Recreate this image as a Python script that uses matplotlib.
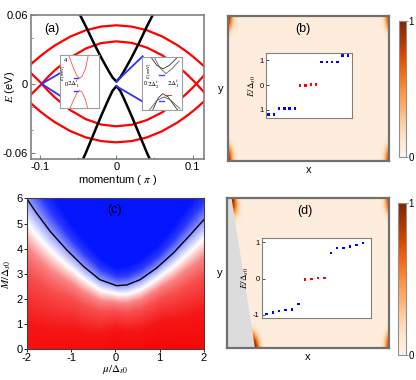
import numpy as np
import matplotlib
matplotlib.use("Agg")
import matplotlib.pyplot as plt
from matplotlib.colors import LinearSegmentedColormap
from matplotlib.cm import ScalarMappable
from matplotlib.colors import Normalize

plt.rcParams['font.family'] = ['Liberation Sans', 'DejaVu Sans']
plt.rcParams['mathtext.fontset'] = 'stix'

# ---- (a) band structure ----
k_red = [-0.113, -0.1, -0.09, -0.08, -0.06, -0.04, -0.02, 0.0,
         0.02, 0.04, 0.06, 0.08, 0.09, 0.1, 0.105, 0.115]
red_outer_up = [0.0165, 0.024, 0.0291, 0.0337, 0.0413, 0.0467, 0.0499, 0.051,
                0.0499, 0.0467, 0.0413, 0.0337, 0.0291, 0.024, 0.0212, 0.0153]
red_inner_up = [-0.010, -0.0015, 0.0058, 0.0123, 0.0231, 0.0308, 0.0355, 0.037,
                0.0357, 0.0316, 0.0249, 0.0155, 0.0098, 0.0034, 0.0, -0.0074]
red_outer_dn = [-0.0165, -0.024, -0.0291, -0.0337, -0.0413, -0.0467, -0.0499, -0.051,
                -0.0499, -0.0467, -0.0413, -0.0337, -0.0291, -0.024, -0.0212, -0.0153]
red_inner_dn = [0.010, 0.0015, -0.0058, -0.0123, -0.0231, -0.0308, -0.0355, -0.037,
                -0.0357, -0.0316, -0.0249, -0.0155, -0.0098, -0.0034, 0.0, 0.0074]

k_blk = [-0.055, -0.05, -0.04, -0.03, -0.02, -0.01, -0.005, 0.0,
         0.005, 0.01, 0.02, 0.03, 0.04, 0.05, 0.055]
blk_up = [0.069, 0.063, 0.050, 0.036, 0.023, 0.011, 0.0055, 0.002,
          0.0055, 0.011, 0.023, 0.036, 0.050, 0.063, 0.069]
blk_dn = [-0.083, -0.075, -0.060, -0.044, -0.028, -0.013, -0.006, -0.002,
          -0.006, -0.013, -0.028, -0.044, -0.060, -0.075, -0.083]

# pointer lines to the insets
blue_l_k = [-0.098, -0.0736]
blue_l_up = [0.0, 0.0094]
blue_l_dn = [0.0, -0.0105]
blue_r_k = [0.0, 0.0345]
blue_r_up = [0.002, 0.024]
blue_r_dn = [-0.002, -0.0155]

# left inset (meV)
li_x = [0.22, 0.35, 0.44, 0.5, 0.56, 0.65, 0.72]
li_up = [4.9, 2.6, 1.3, 1.05, 1.3, 2.6, 4.9]
li_dn = [-4.4, -2.6, -1.3, -1.05, -1.3, -2.6, -4.4]

# right inset (fraction of height)
ri_ua_x = [0.22, 0.36, 0.52, 0.68, 0.88]
ri_ua_y = [1.0, 0.85, 0.78, 0.85, 1.0]
ri_ub_x = [0.30, 0.44, 0.59, 0.74, 0.92]
ri_ub_y = [1.0, 0.80, 0.69, 0.78, 0.93]
ri_la_x = [0.26, 0.40, 0.51, 0.64, 0.88]
ri_la_y = [0.0, 0.23, 0.31, 0.25, 0.0]
ri_lb_x = [0.18, 0.36, 0.55, 0.72, 0.95]
ri_lb_y = [0.0, 0.18, 0.25, 0.18, 0.02]

# ---- (b)/(d) inset spectra ----
n_idx = list(range(1, 17))
b_E = [-1.18, -1.18, -0.95, -0.95, -0.95, -0.95, -0.02, -0.02,
       0.02, 0.02, 0.93, 0.93, 0.93, 0.93, 1.18, 1.18]
d_E = [-0.98, -0.94, -0.90, -0.86, -0.85, -0.71, -0.02, -0.01,
       0.01, 0.02, 0.71, 0.84, 0.85, 0.89, 0.93, 0.98]
b_col = ['blue'] * 6 + ['red'] * 4 + ['blue'] * 6
d_col = ['blue'] * 6 + ['red'] * 4 + ['blue'] * 6
b_ticklabels = ['1', '0', '1']
d_ticklabels = ['-1', '0', '1']

# corner-state profiles (distance from edge -> weight)
edge_dx = [0, 0.012, 0.026, 0.042, 0.065]
edge_wx = [1, 0.7, 0.35, 0.1, 0]
edge_dy = [0, 0.05, 0.09, 0.13, 0.18]
edge_wy = [1, 0.8, 0.45, 0.12, 0]
bg_level = 0.06
peak_level = 1.0
# (d) slanted left edge: x at y=0 and y=1
d_edge_y = [0, 1]
d_edge_x = [0.174, 0.03]

# ---- (c) phase diagram ----
mu_b = [-2.0, -1.8, -1.47, -1.1, -0.72, -0.35, 0.03, 0.26, 0.56, 0.93, 1.31, 1.68, 2.0]
M_b = [6.0, 5.47, 4.69, 3.96, 3.30, 2.77, 2.53, 2.56, 2.77, 3.23, 3.83, 4.53, 5.16]
mu_w = [-2, -1, 0, 1, 2]
w_off = [1.0, 0.6, 0.35, 0.45, 0.75]
t_prof = [-7, -5, -3, -2, -1, 0, 1, 2]
v_prof = [-1, -0.95, -0.72, -0.5, 0, 0.45, 0.85, 1]

fig = plt.figure(figsize=(4.16, 3.80), dpi=100)
frame = '#808080'

# ================= (a) =================
ax = fig.add_axes([0.0745, 0.5816, 0.416, 0.379])
for ys in (red_outer_up, red_inner_up, red_outer_dn, red_inner_dn):
    ax.plot(k_red, ys, color='red', lw=1.6)
ax.plot(k_blk, blk_up, color='black', lw=1.8)
ax.plot(k_blk, blk_dn, color='black', lw=1.8)
for kk, ee in ((blue_l_k, blue_l_up), (blue_l_k, blue_l_dn),
               (blue_r_k, blue_r_up), (blue_r_k, blue_r_dn)):
    ax.plot(kk, ee, color='#3030ff', lw=1.3)
ax.set_xlim(-0.112, 0.115)
ax.set_ylim(-0.0655, 0.06)
ax.set_xticks([-0.1, 0, 0.1])
ax.set_xticklabels(['-0.1', '0', '0.1'])
ax.set_yticks([-0.06, 0, 0.06])
ax.set_yticklabels(['-0.06', '0', '0.06'])
ax.set_yticks([-0.04, -0.02, 0.02, 0.04], minor=True)
ax.set_xticks([-0.05, 0.05], minor=True)
ax.tick_params(direction='in', labelsize=8, length=3, width=0.8, color=frame, pad=2)
ax.tick_params(which='minor', direction='in', length=1.5, color=frame)
ax.set_xlabel('momentum ( $\\pi$ )', fontsize=8, labelpad=1)
ax.set_ylabel('$E$ (eV)', fontsize=8)
ax.yaxis.set_label_coords(-0.08, 0.5)
ax.text(0.12, 0.9, '(a)', transform=ax.transAxes, fontsize=9, ha='center', va='center')
for s in ax.spines.values():
    s.set_color(frame)
    s.set_linewidth(1.2)

# left inset of (a)
ia = fig.add_axes([0.1442, 0.7166, 0.0945, 0.1387])
ia.plot(li_x, li_up, color='#ff5050', lw=0.6)
ia.plot(li_x, li_dn, color='#ff5050', lw=0.6)
ia.plot([0.36, 0.46], [1.05, 1.05], color='#4040ff', lw=1.0)
ia.plot([0.36, 0.46], [-1.05, -1.05], color='#4040ff', lw=1.0)
ia.set_xlim(0, 1)
ia.set_ylim(-3.9, 4.9)
ia.set_xticks([])
ia.set_yticks([])
ia.text(0.15, 4, '4', fontsize=4, ha='center', va='center')
ia.text(0.15, 0, '0', fontsize=4, ha='center', va='center')
ia.text(-0.02, 2.0, '$E$ (meV)', fontsize=3, rotation=90, ha='left', va='center')
ia.text(0.33, 0, '$2\\Delta_1^t$', fontsize=5, ha='center', va='center')
for s in ia.spines.values():
    s.set_color('#a0a0a0')
    s.set_linewidth(0.8)

# right inset of (a)
ib = fig.add_axes([0.342, 0.7105, 0.0962, 0.1387])
ib.plot(ri_ua_x, ri_ua_y, color='#303030', lw=0.6)
ib.plot(ri_ub_x, ri_ub_y, color='#606060', lw=0.6)
ib.plot(ri_la_x, ri_la_y, color='#303030', lw=0.6)
ib.plot(ri_lb_x, ri_lb_y, color='#606060', lw=0.6)
ib.plot([0.42, 0.55], [0.67, 0.67], color='#4040ff', lw=1.0)
ib.plot([0.42, 0.55], [0.17, 0.17], color='#4040ff', lw=1.0)
ib.plot([0.6, 0.72], [0.28, 0.28], color='#a06040', lw=0.8)
ib.set_xlim(0, 1)
ib.set_ylim(0, 1)
ib.set_xticks([])
ib.set_yticks([])
ib.text(0.03, 0.5, '0', fontsize=4, ha='left', va='center')
ib.text(0.06, 0.75, '$E$ (meV)', fontsize=3, rotation=90, ha='left', va='center')
ib.text(0.29, 0.48, '$2\\Delta_2^t$', fontsize=5, ha='center', va='center')
ib.text(0.78, 0.48, '$2\\Delta_1^t$', fontsize=5, ha='center', va='center')
for s in ib.spines.values():
    s.set_color('#a0a0a0')
    s.set_linewidth(0.8)


# ================= (b) and (d) =================
def corner_field(xl_at_y):
    X, Y = np.meshgrid(np.linspace(0, 1, 400), np.linspace(0, 1, 400))
    xl = np.interp(Y, d_edge_y, xl_at_y)
    fx = np.interp(X - xl, edge_dx, edge_wx) + np.interp(1 - X, edge_dx, edge_wx)
    fy = np.interp(Y, edge_dy, edge_wy) + np.interp(1 - Y, edge_dy, edge_wy)
    return bg_level + peak_level * fx * fy


def state_panel(rect, cbar_rect, inset_rect, field, label, lab_xy,
                E, cols, ylim, xlim, ticklabels, grey=None):
    axp = fig.add_axes(rect)
    axp.imshow(field, extent=[0, 1, 0, 1], origin='lower', aspect='auto',
               cmap='Oranges', vmin=0, vmax=1, interpolation='bilinear')
    if grey is not None:
        axp.fill(grey[0], grey[1], color='#dcdcdc', lw=0)
    axp.set_xlim(0, 1)
    axp.set_ylim(0, 1)
    axp.set_xticks([])
    axp.set_yticks([])
    axp.set_xlabel('x', fontsize=8, labelpad=3)
    axp.set_ylabel('y', fontsize=8, rotation=0, labelpad=5, va='center')
    axp.text(lab_xy[0], lab_xy[1], label, transform=axp.transAxes,
             fontsize=9, ha='center', va='center')
    for s in axp.spines.values():
        s.set_color('#707070')
        s.set_linewidth(1.6)

    cax = fig.add_axes(cbar_rect)
    cb = fig.colorbar(ScalarMappable(Normalize(0, 1), 'Oranges'), cax=cax, ticks=[0, 1])
    cb.ax.tick_params(labelsize=7, length=1.5, width=0.6, color='#808080', pad=0.5)
    cb.outline.set_edgecolor('#909090')
    cb.outline.set_linewidth(0.8)

    ax_in = fig.add_axes(inset_rect)
    ax_in.scatter(n_idx, E, c=cols, s=3, marker='s', linewidths=0)
    ax_in.set_xlim(*xlim)
    ax_in.set_ylim(*ylim)
    ax_in.set_xticks([])
    ax_in.set_yticks([-1, 0, 1])
    ax_in.set_yticklabels(ticklabels)
    ax_in.tick_params(direction='in', labelsize=5.5, length=2, width=0.5, pad=1.5)
    ax_in.set_ylabel('$E/\\Delta_{s0}$', fontsize=6.5, labelpad=1)
    for s in ax_in.spines.values():
        s.set_color('#808080')
        s.set_linewidth(0.8)


state_panel([0.547, 0.576, 0.388, 0.382], [0.958, 0.586, 0.0175, 0.3595],
            [0.6387, 0.6887, 0.208, 0.1726], corner_field([0, 0]), '(b)', (0.469, 0.913),
            b_E, b_col, (-1.34, 1.3), (0.49, 16.8), b_ticklabels)

grey_poly = ([0, d_edge_x[0], d_edge_x[1], 0], [0, 0, 1, 1])
state_panel([0.545, 0.0834, 0.391, 0.3947], [0.957, 0.0658, 0.0185, 0.399],
            [0.629, 0.164, 0.2627, 0.2105], corner_field(d_edge_x), '(d)', (0.481, 0.915),
            d_E, d_col, (-1.08, 1.13), (0.27, 17.24), d_ticklabels, grey=grey_poly)

# ================= (c) =================
axc = fig.add_axes([0.0642, 0.0808, 0.426, 0.397])
mu_g = np.linspace(-2, 2, 300)
M_g = np.linspace(0, 6, 300)
Mb_g = np.interp(mu_g, mu_b, M_b)
w_g = np.interp(mu_g, mu_w, w_off)
tt = (M_g[:, None] - Mb_g[None, :]) / w_g[None, :]
vv = np.interp(tt, t_prof, v_prof)
rwb = LinearSegmentedColormap.from_list('rwb', ['#f50a0a', '#ffffff', '#0515ff'])
axc.imshow(vv, extent=[-2, 2, 0, 6], origin='lower', aspect='auto', cmap=rwb,
           vmin=-1, vmax=1, interpolation='bilinear')
axc.plot(mu_b, M_b, color='black', lw=1.0)
axc.set_xlim(-2, 2)
axc.set_ylim(0, 6)
axc.set_xticks([-2, -1, 0, 1, 2])
axc.set_xticklabels(['-2', '-1', '0', '1', '2'])
axc.set_yticks([0, 1, 2, 3, 4, 5, 6])
axc.tick_params(direction='out', labelsize=8, length=2, width=0.6, pad=1)
axc.set_xlabel('$\\mu/\\Delta_{s0}$', fontsize=8, labelpad=0)
axc.set_ylabel('$M/\\Delta_{s0}$', fontsize=8)
axc.yaxis.set_label_coords(-0.075, 0.5)
axc.text(0.498, 0.922, '(c)', transform=axc.transAxes, fontsize=9, ha='center', va='center')
for s in axc.spines.values():
    s.set_color('#404040')
    s.set_linewidth(0.8)

fig.savefig('out.png', dpi=100)
